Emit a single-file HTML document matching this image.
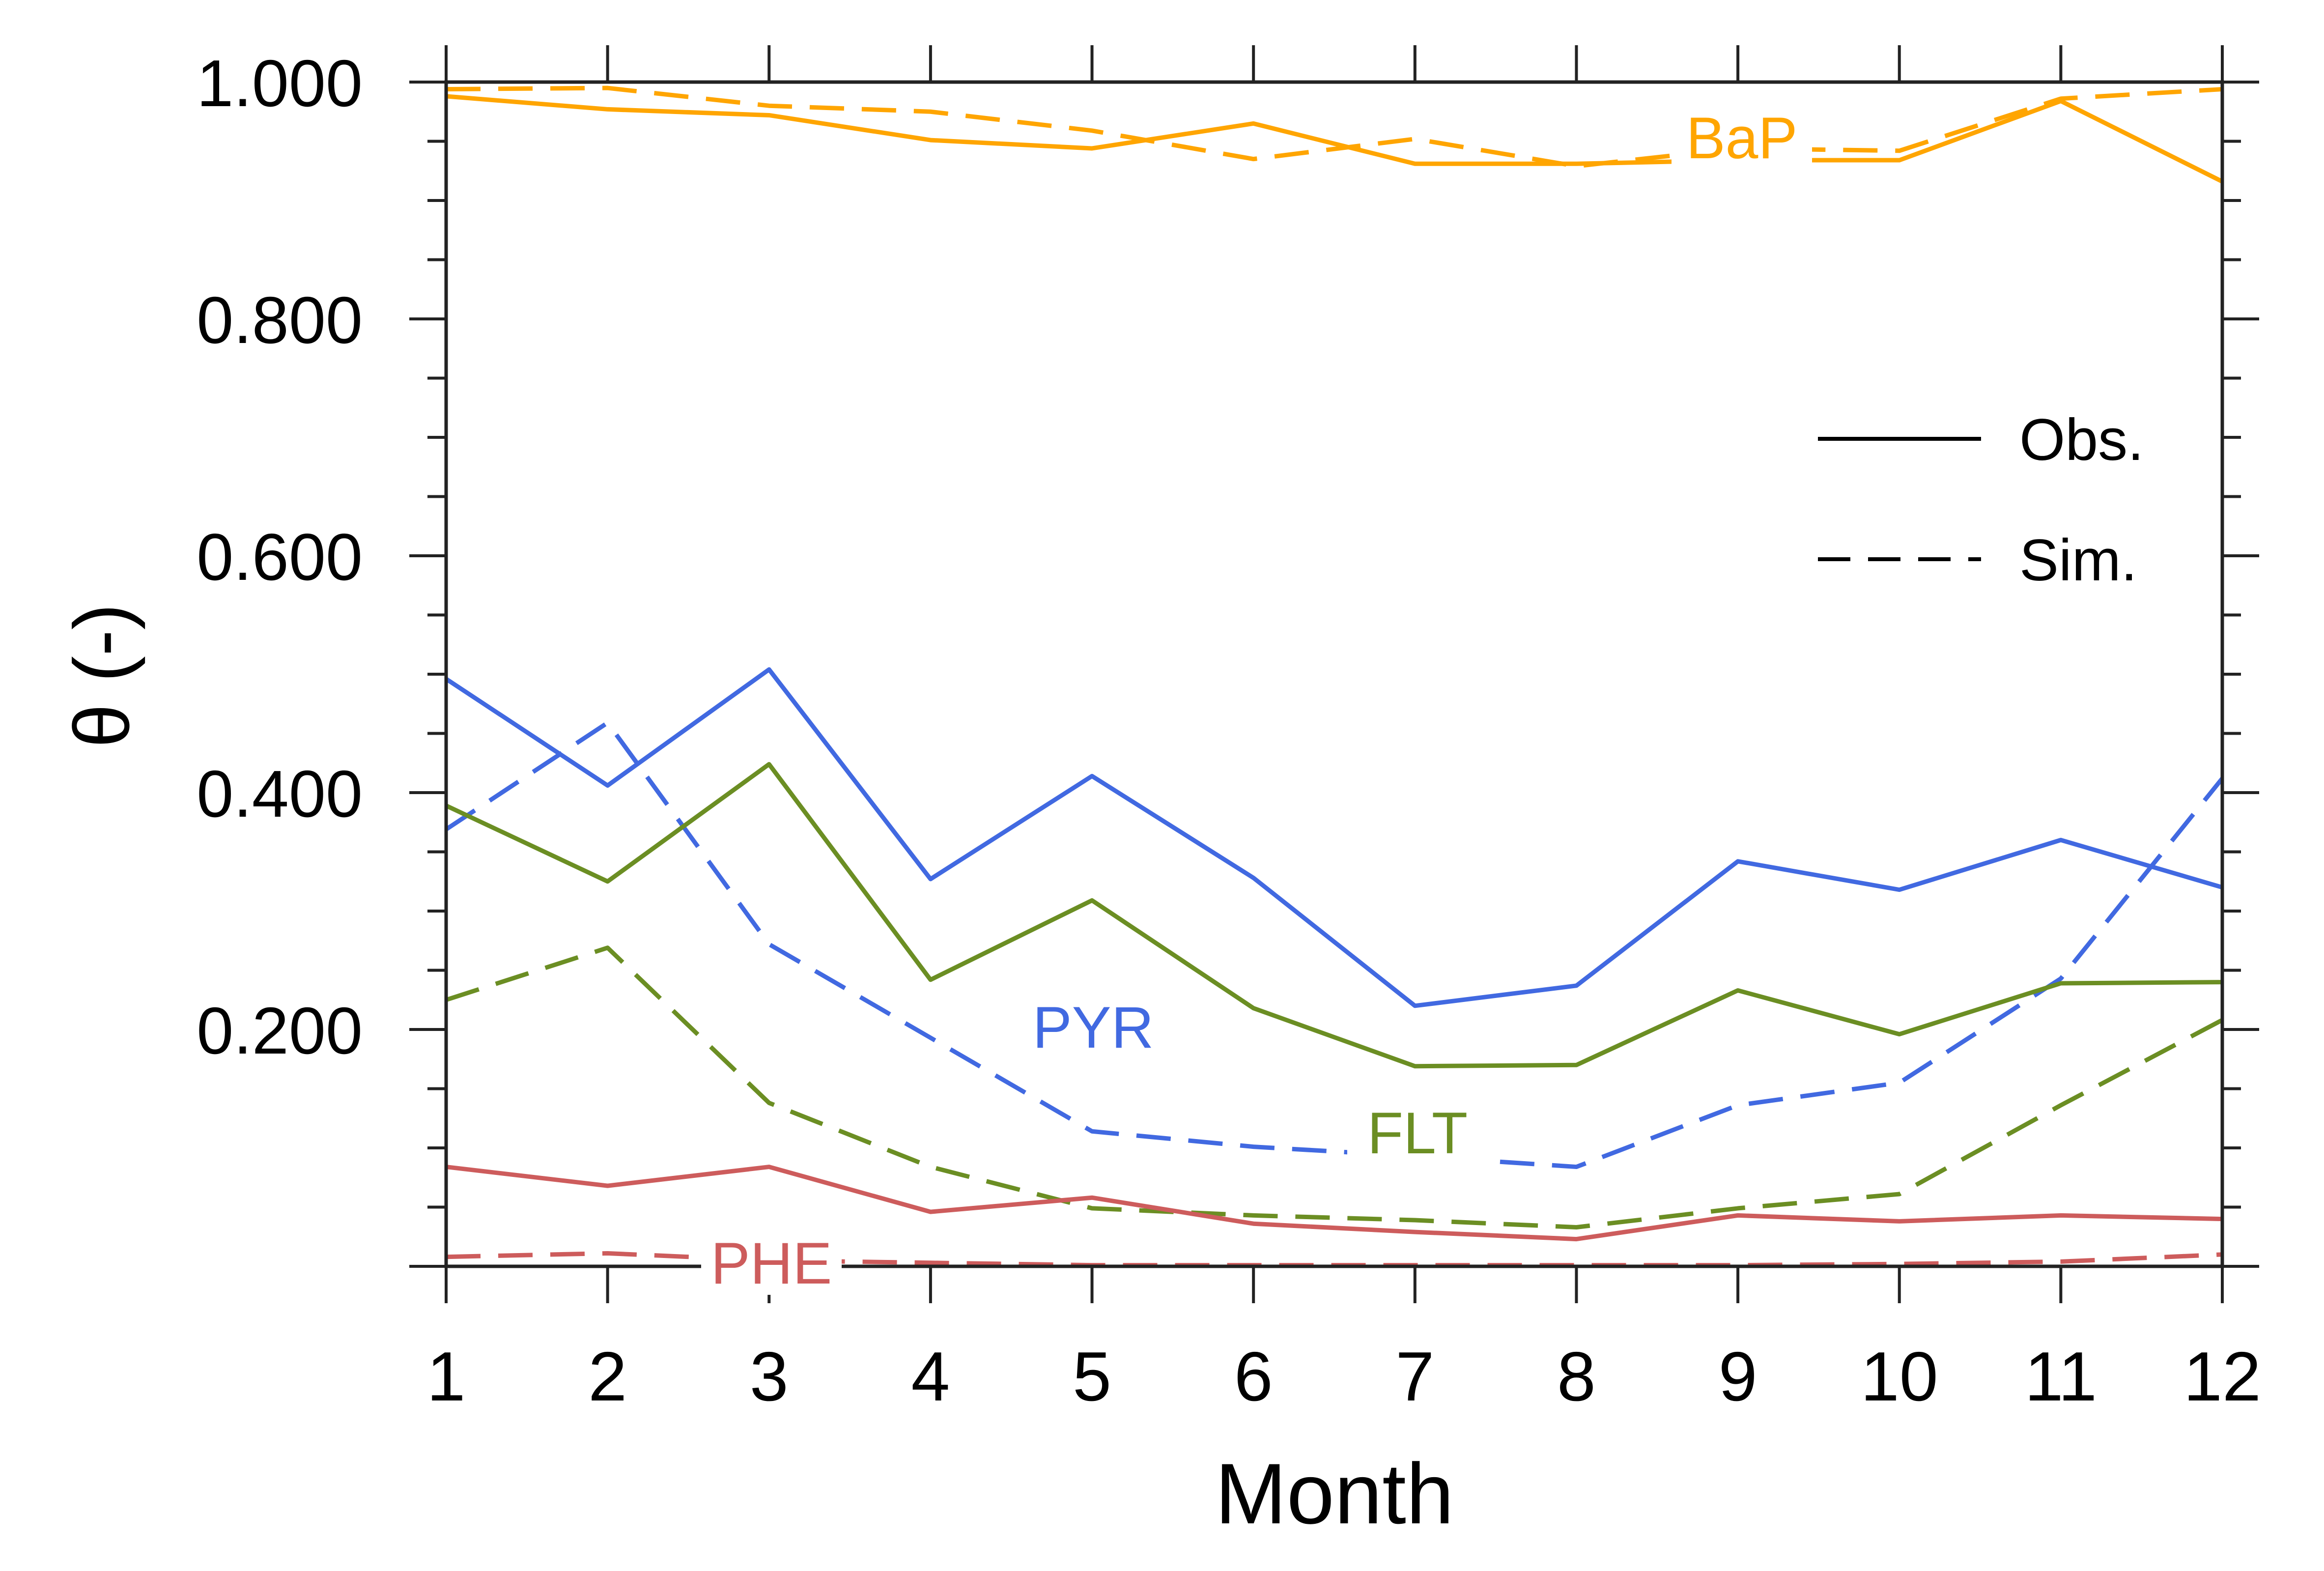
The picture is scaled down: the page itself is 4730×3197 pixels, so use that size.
<!DOCTYPE html>
<html><head><meta charset="utf-8"><style>
html,body{margin:0;padding:0;background:#fff}
svg{display:block}
text{font-family:"Liberation Sans",sans-serif}
</style></head><body>
<svg id="chart" width="4730" height="3197" viewBox="0 0 4730 3197" xmlns="http://www.w3.org/2000/svg">
<g id="marks"></g>
<g id="axes"></g>
<g id="labels"></g>
<g id="legend">
  <line x1="3700" y1="893" x2="4032" y2="893" stroke="#000" stroke-width="8"/>
  <text x="4110" y="936" font-size="120">Obs.</text>
  <line x1="3700" y1="1138" x2="4032" y2="1138" stroke="#000" stroke-width="8" stroke-dasharray="66,36"/>
  <text x="4110" y="1181" font-size="120">Sim.</text>
</g>
<text x="2716" y="3100" font-size="175" text-anchor="middle">Month</text>
<text transform="translate(262,1375) rotate(-90)" font-size="160" text-anchor="middle">θ (-)</text>
</svg>
<script>
const months = [1,2,3,4,5,6,7,8,9,10,11,12];
const bapObs = [0.988,0.977,0.972,0.951,0.944,0.965,0.931,0.931,0.934,0.934,0.984,0.916];
const bapSim = [0.994,0.995,0.980,0.975,0.959,0.935,0.952,0.929,0.944,0.942,0.986,0.994];
const pyrObs = [0.496,0.406,0.504,0.327,0.414,0.328,0.220,0.237,0.342,0.318,0.360,0.320];
const pyrSim = [0.369,0.459,0.272,0.193,0.114,0.101,0.093,0.084,0.136,0.155,0.243,0.412];
const fltObs = [0.389,0.325,0.424,0.242,0.309,0.218,0.169,0.170,0.233,0.196,0.239,0.240];
const fltSim = [0.225,0.269,0.138,0.084,0.049,0.043,0.039,0.033,0.049,0.061,0.136,0.208];
const pheObs = [0.084,0.068,0.084,0.046,0.058,0.036,0.029,0.023,0.043,0.038,0.043,0.040];
const pheSim = [0.008,0.011,0.005,0.003,0.001,0.001,0.001,0.001,0.001,0.002,0.004,0.010];
const yTickLabels = ["0.200","0.400","0.600","0.800","1.000"];
const yTickValues = [0.2,0.4,0.6,0.8,1.0];

const L=908,R=4523,T=167,B=2577;
const xs = m => L + (m-1)*(R-L)/11;
const ys = v => B - v*(B-T);
const NS="http://www.w3.org/2000/svg";
function mk(tag, parent, attrs){const e=document.createElementNS(NS,tag);for(const k in attrs)e.setAttribute(k,attrs[k]);parent.appendChild(e);return e;}

const marks=document.getElementById('marks');
const series=[
 ["bap-obs",bapObs,"#FFA500",false],["bap-sim",bapSim,"#FFA500",true],
 ["pyr-obs",pyrObs,"#4169E1",false],["pyr-sim",pyrSim,"#4169E1",true],
 ["flt-obs",fltObs,"#6B8E23",false],["flt-sim",fltSim,"#6B8E23",true],
 ["phe-obs",pheObs,"#CD5C5C",false],["phe-sim",pheSim,"#CD5C5C",true]];
series.forEach(s=>{
  const p=mk('polyline',marks,{points:s[1].map((v,i)=>xs(months[i])+','+ys(v)).join(' '),fill:'none',stroke:s[2],'stroke-width':9,'stroke-linejoin':'round'});
  if(s[3])p.setAttribute('stroke-dasharray','70,36');
  
  
});

const axes=document.getElementById('axes');
const fr=mk('rect',axes,{x:L,y:T,width:R-L,height:B-T,fill:'none',stroke:'#222','stroke-width':7});


for(let i=0;i<=20;i++){
  const v=i*0.05, y=ys(v), major=(i%4===0);
  const len=major?75:38;
  mk('line',axes,{x1:L-len,y1:y,x2:L,y2:y,stroke:'#222','stroke-width':6});
  mk('line',axes,{x1:R,y1:y,x2:R+len,y2:y,stroke:'#222','stroke-width':6});
}
yTickValues.forEach((v,i)=>{
  const t=mk('text',axes,{x:738,y:ys(v)+49,'font-size':135,'text-anchor':'end'});
  t.textContent=yTickLabels[i];
  
  
});
months.forEach(m=>{
  const x=xs(m);
  mk('line',axes,{x1:x,y1:B,x2:x,y2:B+75,stroke:'#222','stroke-width':6});
  mk('line',axes,{x1:x,y1:T-75,x2:x,y2:T,stroke:'#222','stroke-width':6});
  const t=mk('text',axes,{x:x,y:2850,'font-size':142,'text-anchor':'middle'});
  t.textContent=String(m);
  
  
});

const labels=document.getElementById('labels');
[["BaP",3545,280,"#FFA500"],["PYR",2225,2090,"#4169E1"],["FLT",2885,2305,"#6B8E23"],["PHE",1570,2570,"#CD5C5C"]].forEach(l=>{
  const w=l[0].length*82+40;
  mk('rect',labels,{x:l[1]-w/2,y:l[2]-65,width:w,height:130,fill:'#fff'});
  const t=mk('text',labels,{x:l[1],y:l[2]+42,'font-size':120,'text-anchor':'middle',fill:l[3]});
  t.textContent=l[0];
  
  
});
</script>
</body></html>
